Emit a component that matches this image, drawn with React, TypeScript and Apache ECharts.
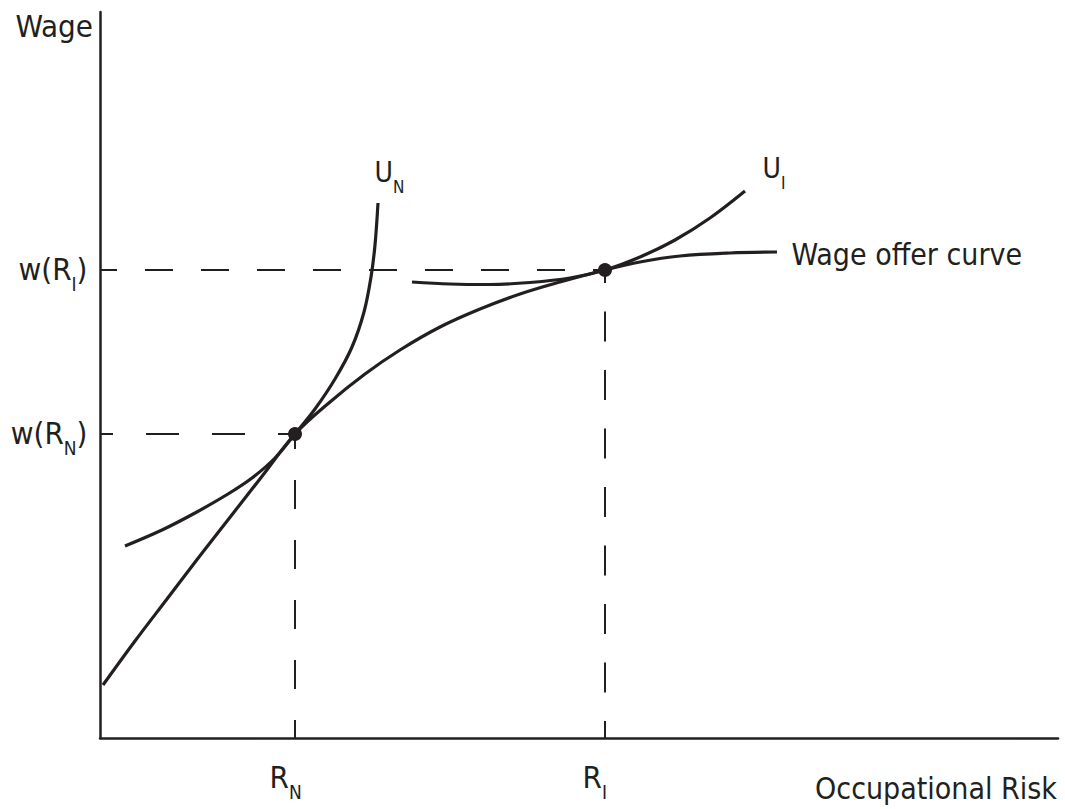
import React, { useEffect, useRef } from "react";
import * as echarts from "echarts";

const INK = "#231f20";
const FONT = '"Liberation Sans Narrow", "DejaVu Sans Condensed", "Arial Narrow", Roboto, sans-serif';

// Axis domain (arbitrary units)
const xMax = 958;
const yMax = 726;

// Tick positions
const riskTicks = [195, 505]; // R_N, R_I
const wageTicks = [304, 468]; // w(R_N), w(R_I)
const tickSubs = ["N", "I"];

// Curves
const offerCurve = [
  [3, 53], [35, 97], [67, 139], [99, 181], [131, 222], [163, 263], [195, 304],
  [230, 336], [265, 364], [300, 388], [340, 411], [380, 429], [420, 444],
  [460, 456], [505, 468], [540, 476], [580, 482], [630, 485], [677, 486],
];
const uNCurve = [
  [25, 192], [62, 208], [95, 225], [128, 244], [152, 260], [175, 280], [195, 304],
  [215, 329], [235, 359], [252, 391], [264, 426], [271, 461], [275, 493], [278, 535],
];
const uICurve = [
  [312, 456], [350, 454], [390, 453.5], [430, 455.5], [470, 460], [505, 468],
  [540, 481], [575, 498], [610, 520], [645, 547],
];

const richMain = (F: number, f: number, P: number) => ({
  m: { fontFamily: FONT, fontSize: F, lineHeight: F, color: INK, verticalAlign: "top" },
  s: { fontFamily: FONT, fontSize: f, lineHeight: f, color: INK, verticalAlign: "top", padding: [P, 0, 0, 0] },
});

export default function App() {
  const ref = useRef<HTMLDivElement>(null);
  useEffect(() => {
    if (!ref.current) return;
    const chart = echarts.init(ref.current, null, { renderer: "svg" });
    const last = (a: number[][]) => a[a.length - 1];
    const tickRich = richMain(31, 19, 21);
    const uRich = richMain(28, 17, 20);

    const labelItems = [
      {
        value: [0, wageTicks[0]],
        label: { formatter: `{m|w(R}{s|${tickSubs[0]}}{m|)}`, position: [-12, -16], align: "right", verticalAlign: "top", rich: tickRich },
      },
      {
        value: [0, wageTicks[1]],
        label: { formatter: `{m|w(R}{s|${tickSubs[1]}}{m|)}`, position: [-12, -16], align: "right", verticalAlign: "top", rich: tickRich },
      },
      {
        value: [riskTicks[0], 0],
        label: { formatter: `{m|R}{s|${tickSubs[0]}}`, position: [-25, 24], align: "left", verticalAlign: "top", rich: tickRich },
      },
      {
        value: [riskTicks[1], 0],
        label: { formatter: `{m|R}{s|${tickSubs[1]}}`, position: [-22, 24], align: "left", verticalAlign: "top", rich: tickRich },
      },
      {
        value: last(uNCurve),
        label: { formatter: "{m|U}{s|N}", position: [-3, -44], align: "left", verticalAlign: "top", rich: uRich },
      },
      {
        value: last(uICurve),
        label: { formatter: "{m|U}{s|I}", position: [18, -36], align: "left", verticalAlign: "top", rich: uRich },
      },
      {
        value: last(offerCurve),
        label: {
          formatter: "Wage offer curve", position: [15, 3], align: "left", verticalAlign: "middle",
          fontFamily: FONT, fontSize: 30, color: INK,
        },
      },
    ];

    const curve = (name: string, data: number[][]) => ({
      name, type: "line", data, smooth: 0.35, symbol: "none",
      lineStyle: { color: INK, width: 3.2 }, z: 5,
    });
    const dash = (name: string, data: number[][], pattern: number[], offset: number) => ({
      name, type: "line", data, symbol: "none",
      lineStyle: { color: INK, width: 2, type: pattern, dashOffset: offset }, z: 3,
    });

    chart.setOption({
      animation: false,
      backgroundColor: "#ffffff",
      grid: { left: 100, right: 7, top: 12, bottom: 71 },
      xAxis: {
        type: "value", min: 0, max: xMax,
        name: "Occupational Risk", nameLocation: "end", nameGap: 0,
        nameTextStyle: { fontFamily: FONT, fontSize: 30, color: INK, align: "right", verticalAlign: "top", padding: [35, 1, 0, 0] },
        axisLine: { show: true, lineStyle: { color: INK, width: 2.5 } },
        axisTick: { show: false }, axisLabel: { show: false }, splitLine: { show: false },
      },
      yAxis: {
        type: "value", min: 0, max: yMax,
        name: "Wage", nameLocation: "end", nameGap: 2,
        nameTextStyle: { fontFamily: FONT, fontSize: 31, color: INK, align: "right", verticalAlign: "top", padding: [0, 7, 0, 0] },
        axisLine: { show: true, lineStyle: { color: INK, width: 2.5 } },
        axisTick: { show: false }, axisLabel: { show: false }, splitLine: { show: false },
      },
      series: [
        dash("guideWN", [[0, wageTicks[0]], [riskTicks[0], wageTicks[0]]], [33, 33], 20),
        dash("guideWI", [[0, wageTicks[1]], [riskTicks[1], wageTicks[1]]], [28, 28], 11),
        dash("guideRN", [[riskTicks[0], wageTicks[0]], [riskTicks[0], 0]], [29, 31], 14),
        dash("guideRI", [[riskTicks[1], wageTicks[1]], [riskTicks[1], 0]], [30, 28.5], 16.5),
        curve("Wage offer curve", offerCurve),
        curve("U_N", uNCurve),
        curve("U_I", uICurve),
        {
          name: "tangency", type: "scatter", symbol: "circle", symbolSize: 14,
          data: riskTicks.map((r, i) => [r, wageTicks[i]]),
          itemStyle: { color: INK, opacity: 1 }, z: 10,
        },
        {
          name: "labels", type: "scatter", symbol: "circle", symbolSize: 1,
          itemStyle: { color: "rgba(0,0,0,0)", opacity: 1 }, data: labelItems,
          label: { show: true, color: INK, fontFamily: FONT },
          z: 11, silent: true,
        },
      ],
    });
    return () => chart.dispose();
  }, []);
  return (
    <div
      ref={ref}
      style={{ position: "fixed", left: 0, top: 0, width: 1065, height: 809, background: "#fff" }}
    />
  );
}
